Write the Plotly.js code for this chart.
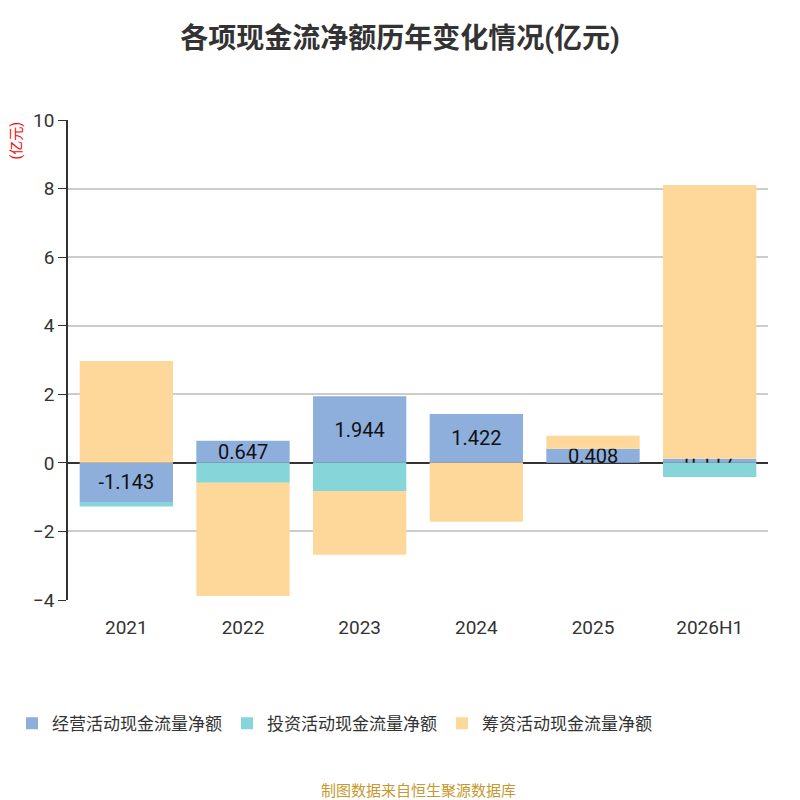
<!DOCTYPE html>
<html><head><meta charset="utf-8">
<script src="https://cdn.plot.ly/plotly-3.0.1.min.js"></script>
<style>body{margin:0}#c{width:800px;height:800px}</style>
</head><body><div id="c"></div>
<script>
const years = ['2021', '2022', '2023', '2024', '2025', '2026H1'];
const operating = [-1.143, 0.647, 1.944, 1.422, 0.408, 0.117];
const investing = [-0.13, -0.58, -0.82, 0, 0, -0.41];
const financing = [2.97, -3.30, -1.86, -1.72, 0.38, 7.99];

const font = 'Roboto, "Noto Sans CJK SC", sans-serif';
const traces = [
  { type: 'bar', x: years, y: operating, name: '经营活动现金流量净额', marker: { color: '#8eaedb' },
    text: operating.map(v => v.toFixed(3)), textposition: 'inside', insidetextanchor: 'middle',
    textfont: { size: 20, color: '#111' }, constraintext: 'none' },
  { type: 'bar', x: years, y: investing, name: '投资活动现金流量净额', marker: { color: '#86d5d8' } },
  { type: 'bar', x: years, y: financing, name: '筹资活动现金流量净额', marker: { color: '#fed89b' } },
];

Plotly.newPlot('c', traces, {
  width: 800, height: 800,
  barmode: 'relative', bargap: 0.2,
  title: { text: '<b>各项现金流净额历年变化情况(亿元)</b>', x: 0.5, y: 0.965, font: { size: 28, color: '#333', family: font } },
  font: { family: font, color: '#333' },
  margin: { l: 68, r: 32, t: 120, b: 200 },
  xaxis: { type: 'category', tickfont: { size: 19, color: '#333' }, showline: false, ticks: '', ticklabelstandoff: 14 },
  yaxis: { range: [-4, 10], dtick: 2, tickfont: { size: 19, color: '#333' }, gridcolor: '#ccc', gridwidth: 1.5,
    showline: true, linecolor: '#333', linewidth: 1.5, ticks: 'outside', ticklen: 8, tickcolor: '#333',
    zeroline: true, zerolinecolor: '#333', zerolinewidth: 1.5 },
  legend: { orientation: 'h', x: -0.08, y: -0.22, xanchor: 'left', font: { size: 17, color: '#333' } },
  showlegend: true,
  annotations: [
    { text: '(亿元)', xref: 'paper', yref: 'paper', x: -0.075, y: 1.0, textangle: -90, showarrow: false,
      font: { size: 14, color: 'red' }, xanchor: 'center', yanchor: 'top' },
    { text: '制图数据来自恒生聚源数据库', xref: 'paper', yref: 'paper', x: 0.5, y: -0.42, showarrow: false,
      font: { size: 15, color: '#c8982e' } },
  ],
}, { displayModeBar: false });
</script></body></html>
